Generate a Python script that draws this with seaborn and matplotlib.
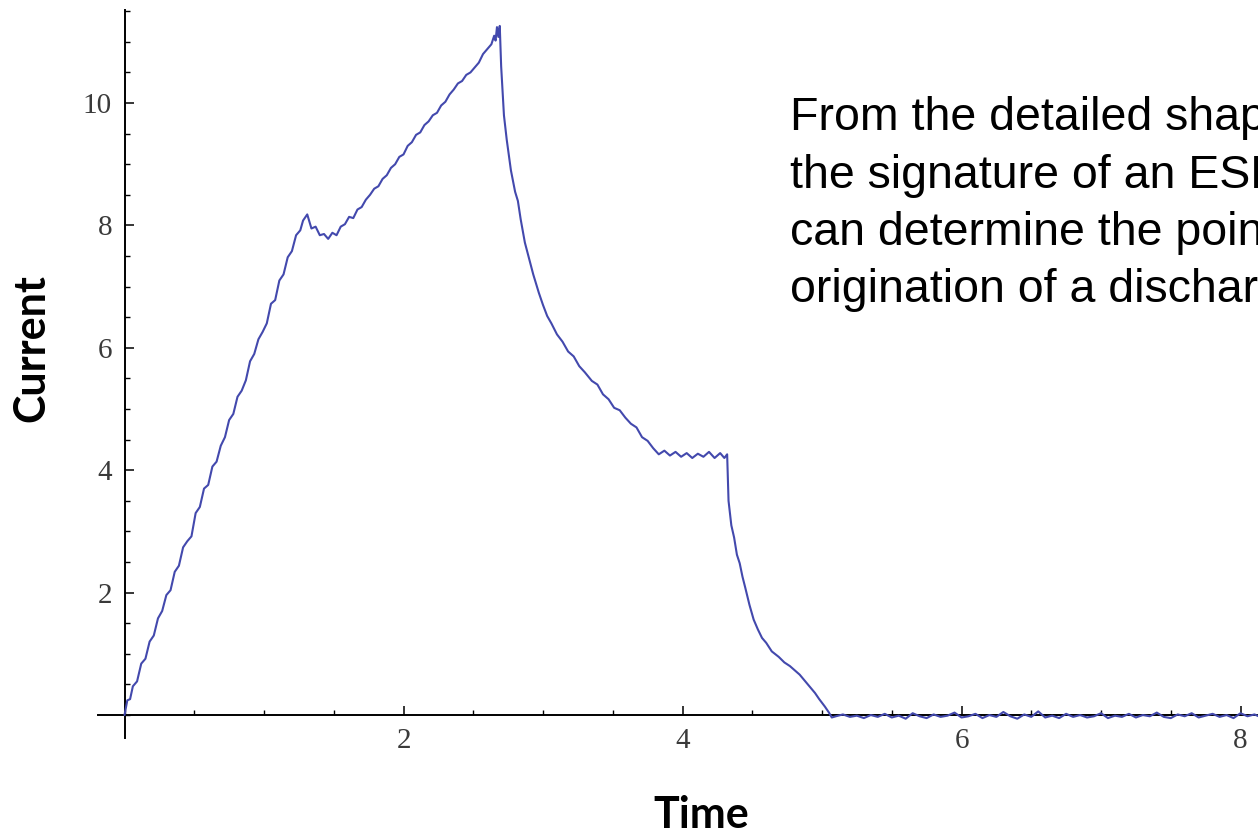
import numpy as np
import pandas as pd
import matplotlib
matplotlib.use("Agg")
import matplotlib.pyplot as plt
import seaborn as sns
from matplotlib.ticker import MultipleLocator

# ---- data ----
time_rise = [0.00, 0.02, 0.04, 0.06, 0.09, 0.12, 0.15, 0.18, 0.21, 0.24, 0.27, 0.30,
             0.33, 0.36, 0.39, 0.42, 0.45, 0.48, 0.51, 0.54, 0.57, 0.60, 0.63, 0.66,
             0.69, 0.72, 0.75, 0.78, 0.81, 0.84, 0.87, 0.90, 0.93, 0.96, 0.99, 1.02,
             1.05, 1.08, 1.11, 1.14, 1.17, 1.20, 1.23, 1.26, 1.28, 1.31]
current_rise = [0.00, 0.24, 0.26, 0.47, 0.55, 0.84, 0.92, 1.20, 1.30, 1.58, 1.70, 1.96,
                2.04, 2.34, 2.44, 2.74, 2.84, 2.92, 3.30, 3.40, 3.70, 3.76, 4.06, 4.14,
                4.40, 4.54, 4.82, 4.92, 5.20, 5.30, 5.47, 5.78, 5.90, 6.14, 6.26, 6.40,
                6.72, 6.78, 7.10, 7.20, 7.48, 7.58, 7.84, 7.92, 8.08, 8.18]

time_second = [1.34, 1.37, 1.40, 1.43, 1.46, 1.49, 1.52, 1.55, 1.58, 1.61, 1.64, 1.67,
               1.70, 1.73, 1.76, 1.79, 1.82, 1.85, 1.88, 1.91, 1.94, 1.97, 2.00, 2.03,
               2.06, 2.09, 2.12, 2.15, 2.18, 2.21, 2.24, 2.27, 2.30, 2.33, 2.36, 2.39,
               2.42, 2.45, 2.48, 2.51, 2.54, 2.57, 2.60, 2.63, 2.65, 2.66, 2.67, 2.68, 2.69]
current_second = [7.95, 7.98, 7.84, 7.86, 7.78, 7.88, 7.84, 7.98, 8.02, 8.14, 8.12, 8.26,
                  8.30, 8.42, 8.50, 8.60, 8.64, 8.76, 8.82, 8.94, 9.00, 9.12, 9.16, 9.30,
                  9.36, 9.48, 9.52, 9.64, 9.70, 9.80, 9.84, 9.96, 10.02, 10.14, 10.22, 10.32,
                  10.36, 10.46, 10.50, 10.58, 10.66, 10.80, 10.88, 10.96, 11.10, 11.02, 11.24, 11.08, 11.26]

time_decay = [2.70, 2.72, 2.74, 2.77, 2.80, 2.82, 2.84, 2.87, 2.90, 2.93, 2.97, 3.00,
              3.03, 3.06, 3.10, 3.14, 3.18, 3.22, 3.26, 3.30, 3.35, 3.39, 3.43, 3.47,
              3.51, 3.55, 3.59, 3.63, 3.67, 3.71, 3.75, 3.79, 3.83, 3.87, 3.91, 3.95,
              3.99, 4.03, 4.07, 4.11, 4.15, 4.19, 4.23, 4.27, 4.30, 4.32]
current_decay = [10.60, 9.80, 9.40, 8.90, 8.55, 8.40, 8.10, 7.72, 7.46, 7.20, 6.90, 6.70,
                 6.52, 6.40, 6.22, 6.10, 5.94, 5.86, 5.70, 5.60, 5.46, 5.40, 5.24, 5.16,
                 5.02, 4.98, 4.86, 4.76, 4.70, 4.54, 4.48, 4.36, 4.26, 4.32, 4.24, 4.30,
                 4.22, 4.28, 4.20, 4.27, 4.22, 4.30, 4.20, 4.28, 4.20, 4.26]

time_fall = [4.33, 4.35, 4.37, 4.39, 4.41, 4.43, 4.45, 4.48, 4.51, 4.54, 4.57, 4.60,
             4.64, 4.69, 4.73, 4.77, 4.81, 4.84, 4.88, 4.92, 4.95, 4.98, 5.02, 5.05, 5.07]
current_fall = [3.50, 3.10, 2.90, 2.62, 2.48, 2.26, 2.08, 1.80, 1.56, 1.40, 1.26, 1.18,
                1.04, 0.95, 0.86, 0.80, 0.72, 0.66, 0.55, 0.44, 0.36, 0.26, 0.14, 0.04, -0.04]

time_tail = [5.10, 5.15, 5.20, 5.25, 5.30, 5.35, 5.40, 5.45, 5.50, 5.55, 5.60, 5.65,
             5.70, 5.75, 5.80, 5.85, 5.90, 5.95, 6.00, 6.05, 6.10, 6.15, 6.20, 6.25,
             6.30, 6.35, 6.40, 6.45, 6.50, 6.55, 6.60, 6.65, 6.70, 6.75, 6.80, 6.85,
             6.90, 6.95, 7.00, 7.05, 7.10, 7.15, 7.20, 7.25, 7.30, 7.35, 7.40, 7.45,
             7.50, 7.55, 7.60, 7.65, 7.70, 7.75, 7.80, 7.85, 7.90, 7.95, 8.00, 8.05,
             8.10, 8.15, 8.20]
current_tail = [-0.02, 0.01, -0.03, -0.01, -0.05, 0.00, -0.03, 0.02, -0.04, -0.01, -0.06, 0.03,
                -0.02, -0.05, 0.01, -0.03, -0.01, 0.04, -0.04, -0.02, 0.02, -0.05, 0.00, -0.03,
                0.05, -0.02, -0.06, 0.01, -0.03, 0.06, -0.04, -0.01, -0.05, 0.02, -0.03, 0.00,
                -0.04, -0.02, 0.03, -0.05, -0.01, -0.03, 0.02, -0.04, 0.00, -0.02, 0.04, -0.03,
                -0.05, 0.01, -0.02, 0.03, -0.04, -0.01, 0.02, -0.03, 0.00, -0.05, 0.03, -0.02,
                0.01, -0.04, -0.01]

x_major_ticks = [2, 4, 6, 8]
y_major_ticks = [2, 4, 6, 8, 10]
x_label = "Time"
y_label = "Current"
annotation_lines = ["From the detailed shape",
                    "the signature of an ESD",
                    "can determine the point",
                    "origination of a discharge"]

df = pd.DataFrame({
    "Time": time_rise + time_second + time_decay + time_fall + time_tail,
    "Current": current_rise + current_second + current_decay + current_fall + current_tail,
})

# ---- figure ----
sns.set_style("white")
plt.rcParams["font.family"] = ["DejaVu Sans"]

W, H = 1258, 833
fig = plt.figure(figsize=(W / 100, H / 100), dpi=100)
# axes spans beyond the right edge (clipped like the reference)
ax = fig.add_axes([98 / W, (H - 738.3) / H, 1282 / W, 728.3 / H])

sns.lineplot(data=df, x="Time", y="Current", ax=ax, color="#4349ad",
             linewidth=1.5, estimator=None, zorder=3)

ax.set_xlim(-0.19, 9.0)
ax.set_ylim(-0.38, 11.52)

for s in ["top", "right"]:
    ax.spines[s].set_visible(False)
for s in ["left", "bottom"]:
    ax.spines[s].set_position(("data", 0))
    ax.spines[s].set_color("black")
    ax.spines[s].set_linewidth(1.4)

ax.set_xticks(x_major_ticks)
ax.set_yticks(y_major_ticks)
ax.xaxis.set_minor_locator(MultipleLocator(0.5))
ax.yaxis.set_minor_locator(MultipleLocator(0.5))
ax.tick_params(which="both", bottom=True, left=True, top=False, right=False)
ax.tick_params(which="major", direction="in", length=6.5, width=1.1, color="black",
               pad=9, labelsize=21, labelcolor="#3a3a3a")
ax.tick_params(which="minor", direction="in", length=3.6, width=1.0, color="black")
for lab in ax.get_xticklabels() + ax.get_yticklabels():
    lab.set_family("Liberation Serif")

ax.set_xlabel("")
ax.set_ylabel("")
ax.grid(False)

fig.text(701 / W, (H - 828) / H, x_label, ha="center", va="baseline",
         fontsize=31, fontweight="bold", family="Lato", color="black")
fig.text(31 / W, (H - 348) / H, y_label, ha="center", va="center", rotation=90,
         fontsize=31, fontweight="bold", family="Lato", color="black")

baselines = [130, 188, 245, 302]
for line, b in zip(annotation_lines, baselines):
    fig.text(790 / W, (H - b) / H, line, ha="left", va="baseline",
             fontsize=33.5, family="Liberation Sans", color="black")

fig.savefig("out.png", dpi=100)
